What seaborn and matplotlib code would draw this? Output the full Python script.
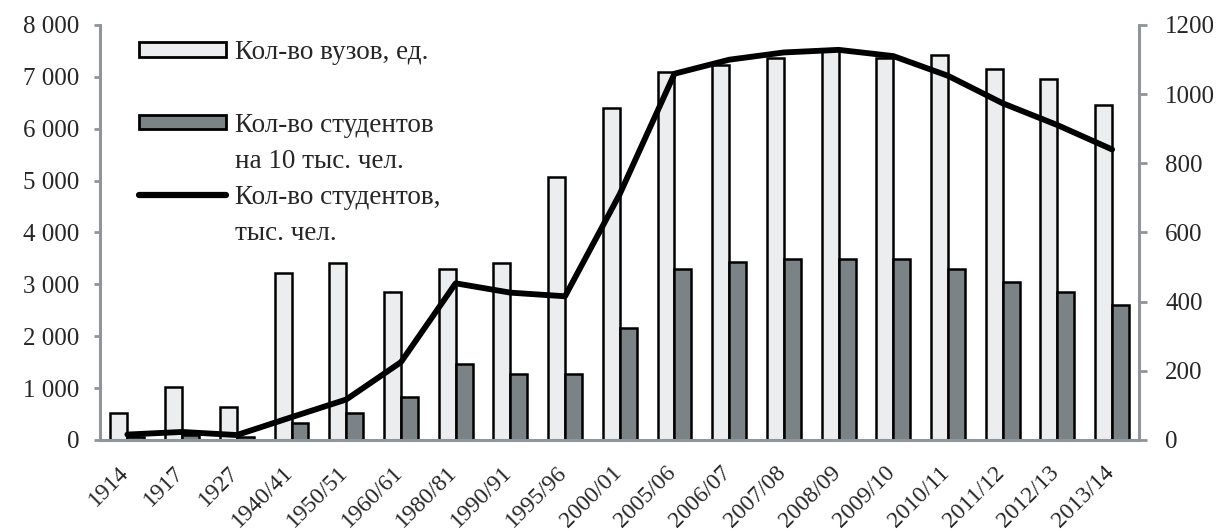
import numpy as np
import pandas as pd
import matplotlib
matplotlib.use('Agg')
import matplotlib.pyplot as plt
import matplotlib.transforms as mtransforms
import seaborn as sns
from matplotlib.patches import Patch
from matplotlib.lines import Line2D
from matplotlib.ticker import FuncFormatter

# --- ДАННЫЕ ---
years = ['1914', '1917', '1927', '1940/41', '1950/51', '1960/61', '1980/81',
         '1990/91', '1995/96', '2000/01', '2005/06', '2006/07', '2007/08',
         '2008/09', '2009/10', '2010/11', '2011/12', '2012/13', '2013/14']
universities = [77, 152, 95, 484, 512, 428, 495, 512, 759, 959,
                1065, 1083, 1105, 1128, 1105, 1112, 1074, 1045, 968]
per_10k = [8, 14, 8, 48, 77, 125, 219, 191, 191, 323,
           495, 515, 524, 524, 524, 495, 457, 428, 389]
students = [105, 155, 95, 440, 780, 1500, 3020, 2840, 2770, 4740,
            7060, 7330, 7470, 7520, 7400, 7020, 6490, 6070, 5600]

lbl_univ = 'Кол-во вузов, ед.'
lbl_per10k = 'Кол-во студентов на 10 тыс. чел.'
lbl_students = 'Кол-во студентов, тыс. чел.'

LIGHT = '#ECEDEF'
DARK = '#7C8386'
GREY = '#8F9599'
FS_TICK = 18
FS_X = 17
FS_LEG = 19.5

sns.set_theme(style='white')
plt.rcParams['font.family'] = ['Liberation Serif', 'DejaVu Serif']

df = pd.DataFrame({'year': years * 2,
                   'series': [lbl_univ] * len(years) + [lbl_per10k] * len(years),
                   'value': universities + per_10k})

fig = plt.figure(figsize=(12.2, 5.31), dpi=100)
ax = fig.add_axes([0.082, 0.1714, 0.852, 0.7816])
ax2 = ax.twinx()

# столбцы - правая ось
sns.barplot(data=df, x='year', y='value', hue='series', order=years,
            hue_order=[lbl_univ, lbl_per10k], palette=[LIGHT, DARK],
            saturation=1, width=0.62, edgecolor='black', linewidth=1.8,
            legend=False, ax=ax2)

# линия - левая ось
sns.lineplot(x=np.arange(len(years)), y=students, color='black',
             linewidth=4.2, solid_capstyle='round', ax=ax)

ax.set_zorder(ax2.get_zorder() + 1)
ax.patch.set_visible(False)

ax.set_xlim(-0.5, len(years) - 0.5)
ax.set_ylim(0, 8000)
ax2.set_ylim(0, 1200)
ax.set_yticks(np.arange(0, 8001, 1000))
ax2.set_yticks(np.arange(0, 1201, 200))
ax.yaxis.set_major_formatter(FuncFormatter(lambda v, p: f'{int(v):,}'.replace(',', ' ')))

ax.set_xticks(np.arange(len(years)))
ax.set_xticklabels(years, rotation=45, ha='right')
ax.set_xticks(np.arange(-0.5, len(years)), minor=True)
ax.tick_params(axis='x', which='major', length=0, pad=16, labelsize=FS_X)
ax.tick_params(axis='x', which='minor', length=6, width=2, color=GREY, direction='out')
ax.tick_params(axis='y', length=4, width=2, color=GREY, direction='out', pad=11, labelsize=FS_TICK)
ax2.tick_params(axis='y', length=6, width=2, color=GREY, direction='out', pad=12.5, labelsize=FS_TICK)

shift = mtransforms.ScaledTranslation(6 / 100, 0, fig.dpi_scale_trans)
for t in ax.get_xticklabels():
    t.set_transform(t.get_transform() + shift)

for a in (ax, ax2):
    a.set_xlabel('')
    a.set_ylabel('')
    a.grid(False)
    for s in a.spines.values():
        s.set_color(GREY)
        s.set_linewidth(2.2)
for s in ('top', 'right'):
    ax.spines[s].set_visible(False)
for s in ('top', 'left', 'bottom'):
    ax2.spines[s].set_visible(False)

# легенда
blank = Patch(visible=False)
handles = [Patch(facecolor=LIGHT, edgecolor='black', linewidth=2), blank,
           Patch(facecolor=DARK, edgecolor='black', linewidth=2), blank,
           Line2D([], [], color='black', linewidth=4.5), blank]
labels = ['Кол-во вузов, ед.', ' ', 'Кол-во студентов', 'на 10 тыс. чел.',
          'Кол-во студентов,', 'тыс. чел.']
ax.legend(handles, labels, loc='upper left', bbox_to_anchor=(0.0375, 0.963),
          frameon=False, fontsize=FS_LEG, handlelength=3.2, handleheight=0.45,
          handletextpad=0.33, labelspacing=0.41, borderpad=0, borderaxespad=0)

fig.savefig('out.png', dpi=100)
